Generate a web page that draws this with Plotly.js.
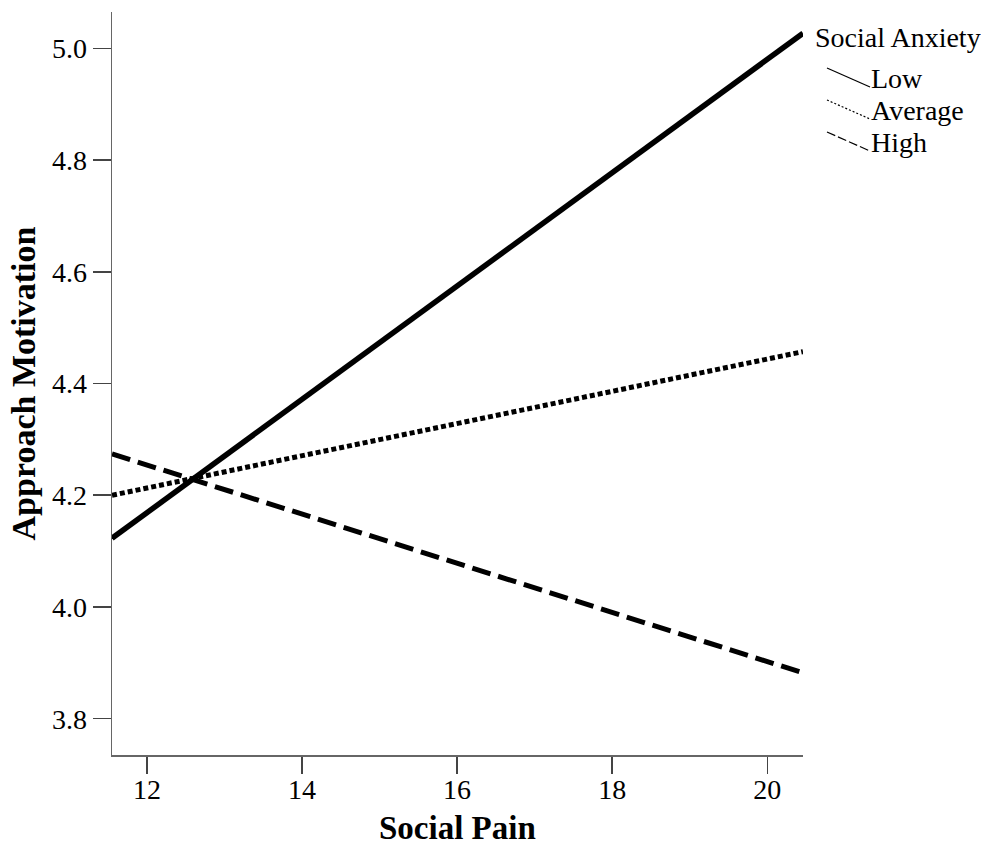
<!DOCTYPE html>
<html>
<head>
<meta charset="utf-8">
<script src="https://cdn.plot.ly/plotly-3.0.1.min.js"></script>
<style>html,body{margin:0;padding:0;background:#fff;}#chart{width:981px;height:847px;}</style>
</head>
<body>
<div id="chart"></div>
<script>
// Data
const socialPain = [11.55, 20.46];
const lowAnxiety = [4.123, 5.027];
const averageAnxiety = [4.200, 4.457];
const highAnxiety = [4.274, 3.882];
const seriesNames = ["Low", "Average", "High"];
const legendTitle = "Social Anxiety";
const xTitle = "Social Pain";
const yTitle = "Approach Motivation";
const xTicks = [12, 14, 16, 18, 20];
const yTicks = [3.8, 4.0, 4.2, 4.4, 4.6, 4.8, 5.0];

const FONT = "Liberation Serif, Times New Roman, serif";
const dashes = ["solid", "5px,3px", "19px,8px"];
const widths = [5.5, 5, 5];
const ys = [lowAnxiety, averageAnxiety, highAnxiety];

const traces = ys.map((y, i) => ({
  x: socialPain, y: y, type: "scatter", mode: "lines", name: seriesNames[i],
  line: {color: "#000", width: widths[i], dash: dashes[i]}, showlegend: false
}));

// custom legend (slanted samples like the original)
const L = 112, R = 803, T = 12, B = 755;
const px = v => (v - L) / (R - L);
const py = v => (B - v) / (B - T);
const legendRows = [78, 110, 142];
const shapes = legendRows.map((cy, i) => ({
  type: "line", xref: "paper", yref: "paper",
  x0: px(827), x1: px(870), y0: py(cy - 10), y1: py(cy + 9),
  line: {color: "#000", width: 1.2, dash: i === 0 ? "solid" : (i === 1 ? "2px,2px" : "9px,3px")}
}));
const annotations = [{
  text: legendTitle, xref: "paper", yref: "paper", x: px(813), y: py(37),
  xanchor: "left", yanchor: "middle", showarrow: false, font: {family: FONT, size: 28, color: "#000"}
}].concat(seriesNames.map((n, i) => ({
  text: n, xref: "paper", yref: "paper", x: px(869), y: py(legendRows[i] + 0),
  xanchor: "left", yanchor: "middle", showarrow: false, font: {family: FONT, size: 28, color: "#000"}
}))).concat([{
  text: "<b>" + xTitle + "</b>", xref: "paper", yref: "paper", x: 0.5, y: py(828),
  xanchor: "center", yanchor: "middle", showarrow: false, borderpad: 0,
  font: {family: FONT, size: 33, color: "#000"}
}]);

const layout = {
  width: 981, height: 847,
  margin: {l: L, r: 981 - R, t: T, b: 847 - B},
  paper_bgcolor: "#fff", plot_bgcolor: "#fff",
  font: {family: FONT, color: "#000"},
  showlegend: false,
  xaxis: {
    range: [11.55, 20.46], tickvals: xTicks, ticktext: xTicks.map(String),
    showgrid: false, zeroline: false, showline: true, linecolor: "#666", linewidth: 1.5,
    ticks: "outside", ticklen: 17, tickwidth: 1.5, tickcolor: "#444", ticklabelstandoff: -8,
    tickfont: {family: FONT, size: 28, color: "#000"}
  },
  yaxis: {
    range: [3.735, 5.065], tickvals: yTicks, ticktext: yTicks.map(v => v.toFixed(1)),
    showgrid: false, zeroline: false, showline: true, linecolor: "#666", linewidth: 1.5,
    ticks: "outside", ticklen: 18, tickwidth: 1.5, tickcolor: "#444",
    tickfont: {family: FONT, size: 28, color: "#000"},
    title: {text: "<b>" + yTitle + "</b>", font: {family: FONT, size: 34, color: "#000"}, standoff: 6}
  },
  shapes: shapes,
  annotations: annotations
};

Plotly.newPlot("chart", traces, layout, {displayModeBar: false, staticPlot: true});
</script>
</body>
</html>
